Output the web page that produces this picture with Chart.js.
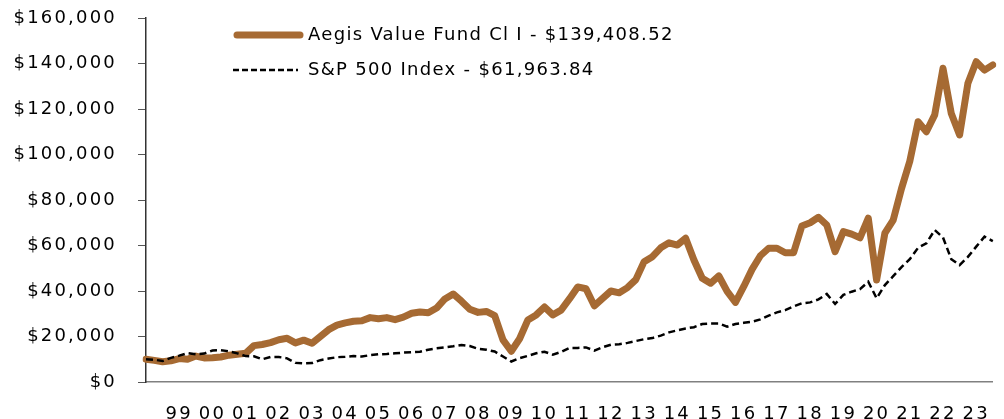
<!DOCTYPE html>
<html>
<head>
<meta charset="utf-8">
<script src="https://cdn.jsdelivr.net/npm/chart.js@4.4.0/dist/chart.umd.min.js"></script>
<style>
  html, body { margin: 0; padding: 0; background: #fff; }
</style>
</head>
<body>
<canvas id="growthChart" width="1004" height="419"></canvas>
<script>
// growth of $10,000
const aegisValues = [
  10000, 9500, 8900, 9300, 10300, 10000, 11400, 10600, 10700, 11000,
  11800, 12200, 12600, 16000, 16500, 17300, 18600, 19200, 17200, 18400,
  17000, 20000, 23000, 25000, 26000, 26700, 26900, 28300, 27800, 28300,
  27400, 28500, 30200, 30800, 30400, 32500, 36500, 38700, 35500, 32000,
  30600, 31000, 29200, 18500, 13500, 19000, 27300, 29500, 33000, 29500,
  31600, 36500, 41800, 41000, 33500, 36800, 40000, 39200, 41500, 45000,
  52900, 55100, 59000, 61200, 60200, 63200, 53600, 45600, 43400, 46600,
  39800, 35000, 42000, 49500, 55500, 58800, 58800, 56800, 56800, 68600,
  70000, 72400, 69000, 57300, 66100, 65000, 63400, 72000, 44800, 65400,
  71200, 85000, 97000, 114400, 110000, 117400, 137900, 118000, 108600, 131300,
  140800, 137100, 139408.52
];
const spxValues = [
  10000, 9800, 9200, 10600, 11600, 12700, 12200, 12500, 13800, 14000,
  13500, 12600, 11400, 11300, 10000, 11000, 11000, 10400, 8400, 8200,
  8300, 9600, 10300, 10900, 11100, 11400, 11200, 11800, 12200, 12300,
  12600, 12900, 13100, 13300, 14200, 14800, 15200, 15700, 16300, 15800,
  14600, 14200, 13400, 11200, 9000, 10500, 11500, 12600, 13300, 12000,
  13200, 15000, 15000, 15200, 13800, 15300, 16400, 16600, 17200, 18000,
  18800, 19300, 20400, 21800, 22700, 23500, 24100, 25500, 25700, 25700,
  24300, 25500, 26000, 26500, 27500, 29200, 30600, 31600, 33200, 34600,
  35000, 36300, 38700, 34300, 38300, 39700, 40800, 44100, 36800, 42600,
  46500, 50500, 54000, 59000, 61000, 66800, 63500, 54000, 51400, 55000,
  59500, 63900, 61963.84
];
const seriesNames = ["Aegis Value Fund Cl I - $139,408.52", "S&P 500 Index - $61,963.84"];
const yTicks = [0, 20000, 40000, 60000, 80000, 100000, 120000, 140000, 160000];

// quarters, starting Q2 1998
const quarters = [];
for (let i = 0; i < aegisValues.length; i++) {
  const n = i + 1;
  quarters.push((1998 + Math.floor(n / 4)) + " Q" + (n % 4 + 1));
}

const FONT = "'DejaVu Sans', sans-serif";
const AXIS_SPACING = "2.2px";
const LEGEND_SPACING = "1.3px";
const TEXT_COLOR = "#000000";

// wider text like the original
const spacingPlugin = {
  id: "spacing",
  beforeUpdate(chart) { chart.ctx.letterSpacing = AXIS_SPACING; },
  beforeDraw(chart) { chart.ctx.letterSpacing = AXIS_SPACING; }
};

// legend sits inside the plot
const insideLegend = {
  id: "insideLegend",
  afterDraw(chart) {
    const ctx = chart.ctx;
    ctx.save();
    ctx.letterSpacing = LEGEND_SPACING;
    ctx.font = "18px " + FONT;
    ctx.textBaseline = "middle";
    ctx.textAlign = "left";
    chart.data.datasets.forEach((ds, i) => {
      const y = 35 + i * 35;
      ctx.beginPath();
      ctx.strokeStyle = ds.borderColor;
      ctx.lineWidth = i === 0 ? 7 : 2.5;
      ctx.lineCap = i === 0 ? "round" : "butt";
      ctx.setLineDash(i === 0 ? [] : [6, 3]);
      ctx.moveTo(i === 0 ? 237 : 233, y);
      ctx.lineTo(i === 0 ? 300 : 298, y);
      ctx.stroke();
      ctx.fillStyle = TEXT_COLOR;
      ctx.fillText(ds.label, 308, y);
    });
    ctx.restore();
  }
};

const ctx = document.getElementById("growthChart").getContext("2d");

const chart = new Chart(ctx, {
  type: "line",
  data: {
    labels: quarters,
    datasets: [
      {
        label: seriesNames[0],
        data: aegisValues,
        borderColor: "#A66A33",
        borderWidth: 7,
        borderJoinStyle: "round",
        borderCapStyle: "round",
        pointRadius: 0,
        tension: 0,
        order: 2
      },
      {
        label: seriesNames[1],
        data: spxValues,
        borderColor: "#000000",
        borderWidth: 2.5,
        borderDash: [7, 4],
        pointRadius: 0,
        tension: 0,
        order: 1
      }
    ]
  },
  options: {
    responsive: false,
    animation: false,
    layout: { padding: { left: 0, right: 7, top: 18, bottom: 0 } },
    plugins: {
      legend: { display: false },
      tooltip: { enabled: false }
    },
    scales: {
      x: {
        offset: false,
        grid: { display: false },
        border: { display: true, color: "#808080", width: 1.5 },
        afterFit: (scale) => { scale.height = 37; },
        ticks: {
          autoSkip: false,
          maxRotation: 0,
          padding: 14,
          color: TEXT_COLOR,
          font: { family: FONT, size: 18 },
          callback: (v, i) => {
            const q = quarters[i];
            if (q.endsWith("Q2") && +q.slice(0, 4) >= 1999) return q.slice(2, 4);
            return null;
          }
        }
      },
      y: {
        min: 0,
        max: 160000,
        afterBuildTicks: (scale) => { scale.ticks = yTicks.map(v => ({ value: v })); },
        afterFit: (scale) => {
          scale.width = 146;
          // let the top label hang over the plot edge
          scale.paddingTop = 0;
          scale.paddingBottom = 0;
        },
        grid: { drawOnChartArea: false, tickLength: 8, color: "#555555" },
        border: { display: true, color: "#333333", width: 1.5 },
        ticks: {
          padding: 21,
          color: TEXT_COLOR,
          font: { family: FONT, size: 18 },
          callback: (v) => "$" + v.toLocaleString("en-US")
        }
      }
    }
  },
  plugins: [spacingPlugin, insideLegend]
});
</script>
</body>
</html>
